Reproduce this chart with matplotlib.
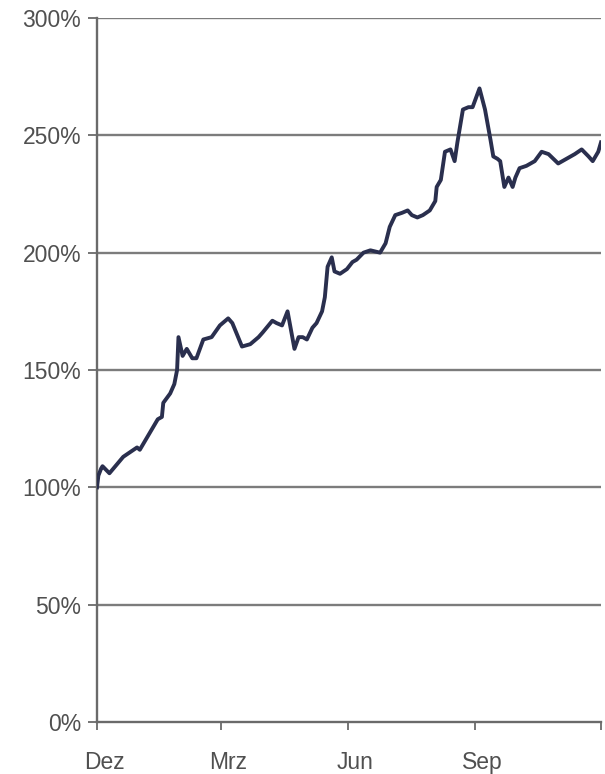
import matplotlib
matplotlib.use("Agg")
import matplotlib.pyplot as plt
import matplotlib.transforms as mtransforms
import pandas as pd
import numpy as np

# Day offsets from 1 Dec and index level in percent
days = [0, 1, 3, 4, 9, 19, 29, 31, 38, 44, 47, 48, 53, 56, 58, 59, 62, 65, 69, 72,
        77, 83, 89, 95, 98, 105, 111, 117, 120, 127, 130, 134, 138, 143, 146, 149,
        152, 156, 159, 163, 165, 167, 170, 172, 176, 181, 185, 188, 193, 198, 205,
        209, 212, 216, 221, 225, 228, 232, 236, 241, 245, 246, 249, 252, 256, 259,
        261, 265, 269, 272, 277, 281, 285, 287, 290, 292, 295, 298, 301, 303, 306,
        311, 317, 322, 327, 334, 340, 346, 351, 356, 359, 363, 365]
values = [100, 105, 108, 109, 106, 113, 117, 116, 123, 129, 130, 136, 140, 144, 150,
          164, 156, 159, 155, 155, 163, 164, 169, 172, 170, 160, 161, 164, 166, 171,
          170, 169, 175, 159, 164, 164, 163, 168, 170, 175, 181, 194, 198, 192, 191,
          193, 196, 197, 200, 201, 200, 204, 211, 216, 217, 218, 216, 215, 216, 218,
          222, 228, 231, 243, 244, 239, 247, 261, 262, 262, 270, 261, 248, 241, 240,
          239, 228, 232, 228, 232, 236, 237, 239, 243, 242, 238, 240, 242, 244, 241,
          239, 243, 247]
start_date = "2005-12-01"
tick_dates = ["2005-12-01", "2006-03-01", "2006-06-01", "2006-09-01", "2006-12-01"]
tick_labels = ["Dez", "Mrz", "Jun", "Sep", ""]
y_ticks = [0, 50, 100, 150, 200, 250, 300]
y_labels = ["0%", "50%", "100%", "150%", "200%", "250%", "300%"]

plt.rcParams["font.family"] = ["Liberation Sans", "DejaVu Sans"]

dates = pd.Timestamp(start_date) + pd.to_timedelta(days, unit="D")
tdates = pd.to_datetime(tick_dates)

fig = plt.figure(figsize=(6.05, 7.74), dpi=100)
ax = fig.add_axes([97 / 605, 1 - 722 / 774, (601 - 97) / 605, (722 - 18) / 774])

for yv in y_ticks[1:]:
    ax.axhline(yv, color="#7c7c7c", lw=1.7, zorder=1)

ax.plot(dates, values, color="#2a2f4e", lw=2.8, zorder=3, solid_joinstyle="round")

ax.set_xlim(tdates[0], tdates[-1])
ax.set_ylim(0, 300)
ax.set_xticks(tdates)
ax.set_xticklabels(tick_labels)
ax.set_yticks(y_ticks)
ax.set_yticklabels(y_labels)

for s in ["top", "right"]:
    ax.spines[s].set_visible(False)
for s in ["left", "bottom"]:
    ax.spines[s].set_color("#6a6a6a")
    ax.spines[s].set_linewidth(1.7)

ax.tick_params(axis="y", length=6.5, width=1.3, color="#6a6a6a", pad=5,
               labelsize=16.5, labelcolor="#505050")
ax.tick_params(axis="x", length=6, width=1.3, color="#6a6a6a", pad=15,
               labelsize=16.5, labelcolor="#505050")

offset = mtransforms.ScaledTranslation(0.07, 0, fig.dpi_scale_trans)
for lbl in ax.get_xticklabels():
    lbl.set_transform(lbl.get_transform() + offset)

fig.savefig("out.png", dpi=100)
